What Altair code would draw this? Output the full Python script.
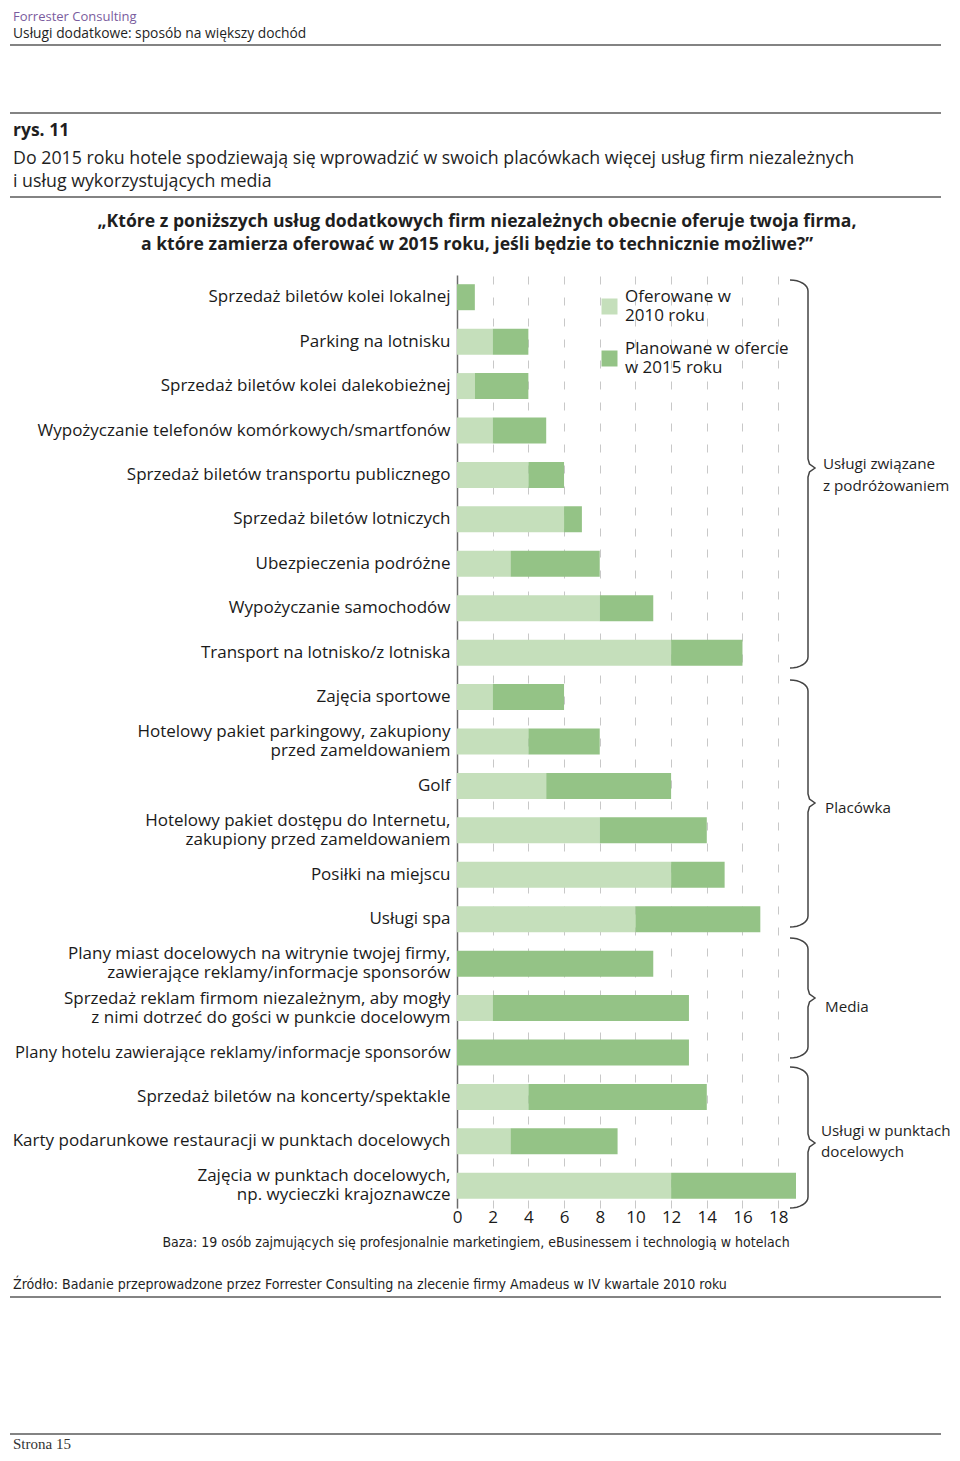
import math
import altair as alt
import pandas as pd

# ---------------- data ----------------
categories = [
    "Sprzedaż biletów kolei lokalnej",
    "Parking na lotnisku",
    "Sprzedaż biletów kolei dalekobieżnej",
    "Wypożyczanie telefonów komórkowych/smartfonów",
    "Sprzedaż biletów transportu publicznego",
    "Sprzedaż biletów lotniczych",
    "Ubezpieczenia podróżne",
    "Wypożyczanie samochodów",
    "Transport na lotnisko/z lotniska",
    "Zajęcia sportowe",
    "Hotelowy pakiet parkingowy, zakupiony\nprzed zameldowaniem",
    "Golf",
    "Hotelowy pakiet dostępu do Internetu,\nzakupiony przed zameldowaniem",
    "Posiłki na miejscu",
    "Usługi spa",
    "Plany miast docelowych na witrynie twojej firmy,\nzawierające reklamy/informacje sponsorów",
    "Sprzedaż reklam firmom niezależnym, aby mogły\nz nimi dotrzeć do gości w punkcie docelowym",
    "Plany hotelu zawierające reklamy/informacje sponsorów",
    "Sprzedaż biletów na koncerty/spektakle",
    "Karty podarunkowe restauracji w punktach docelowych",
    "Zajęcia w punktach docelowych,\nnp. wycieczki krajoznawcze",
]
offered_2010 = [0, 2, 1, 2, 4, 6, 3, 8, 12, 2, 4, 5, 8, 12, 10, 0, 2, 0, 4, 3, 12]
planned_2015 = [1, 2, 3, 3, 2, 1, 5, 3, 4, 4, 4, 7, 6, 3, 7, 11, 11, 13, 10, 6, 7]
series_names = ["Oferowane w\n2010 roku", "Planowane w ofercie\nw 2015 roku"]
series_colors = ["#c5dfbb", "#94c386"]
x_ticks = [0, 2, 4, 6, 8, 10, 12, 14, 16, 18]

group_labels = [
    ["Usługi związane", "z podróżowaniem"],
    ["Placówka"],
    ["Media"],
    ["Usługi w punktach", "docelowych"],
]

# ---------------- layout (page pixels) ----------------
OX, OY = 457, 275          # plot origin on the page
PW, PH = 339, 933          # plot size
FONT = "Open Sans"
LONG_LABEL = "Plany hotelu zawierające reklamy/informacje sponsorów"

rows = []
for c, a, b in zip(categories, offered_2010, planned_2015):
    rows.append({"category": c, "series": series_names[0], "value": a, "ord": 0})
    rows.append({"category": c, "series": series_names[1], "value": b, "ord": 1})
bars_df = pd.DataFrame(rows)

bars = alt.Chart(bars_df).mark_bar().encode(
    y=alt.Y(
        "category:N",
        sort=categories,
        scale=alt.Scale(paddingInner=0.415, paddingOuter=0.2075),
        axis=alt.Axis(
            title=None, ticks=False, domain=True, domainColor="#6b6b6b", domainWidth=1.5,
            labelFont=FONT,
            labelFontSize={"condition": {"test": f"datum.value == '{LONG_LABEL}'", "value": 16.6},
                           "value": 17},
            labelOffset={"condition": {"test": "indexof(datum.value, '\\n') >= 0", "value": -9.5},
                         "value": 0},
            labelColor="#1a1a1a", labelPadding=7,
            labelLimit=600, labelLineHeight=19, labelExpr="split(datum.label, '\\n')",
        ),
    ),
    x=alt.X(
        "value:Q",
        stack="zero",
        scale=alt.Scale(domain=[0, 19], nice=False),
        axis=alt.Axis(
            title=None, values=x_ticks, ticks=False, domain=False, grid=True,
            gridDash=[8, 13], gridColor="#c8c8c8", gridWidth=1, labelFlush=False,
            labelFont=FONT, labelFontSize=17, labelColor="#1a1a1a", labelPadding=1,
        ),
    ),
    color=alt.Color(
        "series:N",
        scale=alt.Scale(domain=series_names, range=series_colors),
        legend=alt.Legend(
            title=None, orient="none", legendX=144, legendY=23, direction="vertical",
            symbolType="square", symbolSize=256, symbolStrokeWidth=0, symbolOpacity=1,
            labelFont=FONT, labelFontSize=17, labelColor="#1a1a1a", labelOffset=7,
            labelBaseline="line-bottom",
            labelLimit=300, labelExpr="split(datum.label, '\\n')", rowPadding=15,
            padding=0, offset=0,
        ),
    ),
    order=alt.Order("ord:Q"),
)


def text_layer(items, align="left", font=FONT, weight="normal"):
    df = pd.DataFrame(
        [{"text": t, "px": x - OX, "py": y - OY, "size": s, "color": col} for t, x, y, s, col in items]
    )
    return alt.Chart(df).mark_text(align=align, baseline="middle", font=font, fontWeight=weight).encode(
        x=alt.X("px:Q", scale=None, axis=None),
        y=alt.Y("py:Q", scale=None, axis=None),
        text="text:N",
        size=alt.Size("size:Q", scale=None, legend=None),
        color=alt.Color("color:N", scale=None, legend=None),
    )


DARK = "#1f1f1f"
GS = 15.2
header = text_layer([
    ("Forrester Consulting", 13, 17, 13, "#7a5c9e"),
    ("Usługi dodatkowe: sposób na większy dochód", 13, 34, 13.8, DARK),
    ("Do 2015 roku hotele spodziewają się wprowadzić w swoich placówkach więcej usług firm niezależnych",
     13, 159, 17.8, DARK),
    ("i usług wykorzystujących media", 13, 182, 17.8, DARK),
    (group_labels[0][0], 823, 464, GS, DARK),
    (group_labels[0][1], 823, 486, GS, DARK),
    (group_labels[1][0], 825, 808, GS, DARK),
    (group_labels[2][0], 825, 1007, GS, DARK),
    (group_labels[3][0], 821, 1131, GS, DARK),
    (group_labels[3][1], 821, 1152, GS, DARK),
])
rys = text_layer([("rys. 11", 13, 131, 17.5, DARK)], weight="bold")
question = text_layer([
    ("„Które z poniższych usług dodatkowych firm niezależnych obecnie oferuje twoja firma,", 477, 222, 17.6, DARK),
    ("a które zamierza oferować w 2015 roku, jeśli będzie to technicznie możliwe?”", 477, 245, 17.6, DARK),
], align="center", font=FONT, weight="bold")
SMALL_FONT = "DejaVu Sans Condensed, Roboto, sans-serif"
baza = text_layer([
    ("Baza: 19 osób zajmujących się profesjonalnie marketingiem, eBusinessem i technologią w hotelach",
     476, 1243, 14, DARK),
], align="center", font=SMALL_FONT)
zrodlo = text_layer([
    ("Źródło: Badanie przeprowadzone przez Forrester Consulting na zlecenie firmy Amadeus w IV kwartale 2010 roku",
     13, 1285, 14.1, DARK),
], font=SMALL_FONT)
strona = text_layer([("Strona 15", 13, 1444, 15, "#333333")], font="Liberation Serif")

# horizontal separator lines
rule_y = [45, 113, 197, 1297, 1434]
rules_df = pd.DataFrame({"x1": [10 - OX] * len(rule_y), "x2": [941 - OX] * len(rule_y),
                         "y": [y - OY for y in rule_y]})
rules = alt.Chart(rules_df).mark_rule(color="#5a5a5a", strokeWidth=1.5).encode(
    x=alt.X("x1:Q", scale=None, axis=None),
    x2="x2:Q",
    y=alt.Y("y:Q", scale=None, axis=None),
)

# curly braces (decoration)
brace_tops = [280, 680, 938, 1067]
brace_bottoms = [668, 927, 1058, 1208]
brace_tips = [468, 803, 998, 1143]
pts = []
for k, (t, b, m) in enumerate(zip(brace_tops, brace_bottoms, brace_tips)):
    seq = []
    for j in range(9):
        a = math.pi / 2 * (1 - j / 8)
        seq.append((790 + 18 * math.cos(a), t + 11 - 11 * math.sin(a)))
    seq += [(808, m - 9), (809.5, m - 4), (815, m), (809.5, m + 4), (808, m + 9)]
    for j in range(9):
        a = -math.pi / 2 * (j / 8)
        seq.append((790 + 18 * math.cos(a), b - 11 - 11 * math.sin(a)))
    for i, (x, y) in enumerate(seq):
        pts.append({"brace": k, "i": i, "px": x - OX, "py": y - OY})
braces = alt.Chart(pd.DataFrame(pts)).mark_line(color="#444444", strokeWidth=1.5).encode(
    x=alt.X("px:Q", scale=None, axis=None),
    y=alt.Y("py:Q", scale=None, axis=None),
    detail="brace:N",
    order="i:Q",
)

chart = alt.layer(
    bars, rules, braces, header, rys, question, baza, zrodlo, strona
).resolve_scale(
    x="independent", y="independent", color="independent", size="independent"
).properties(
    width=PW, height=PH,
    padding={"left": OX - 8, "top": OY - 8, "right": 960 - 16 - (OX - 8) - PW,
             "bottom": 1461 - 16 - (OY - 8) - PH},
    autosize=alt.AutoSizeParams(type="none"),
    background="white",
).configure_view(stroke=None)

chart.save("out.html", embed_options={"renderer": "svg", "actions": False})
